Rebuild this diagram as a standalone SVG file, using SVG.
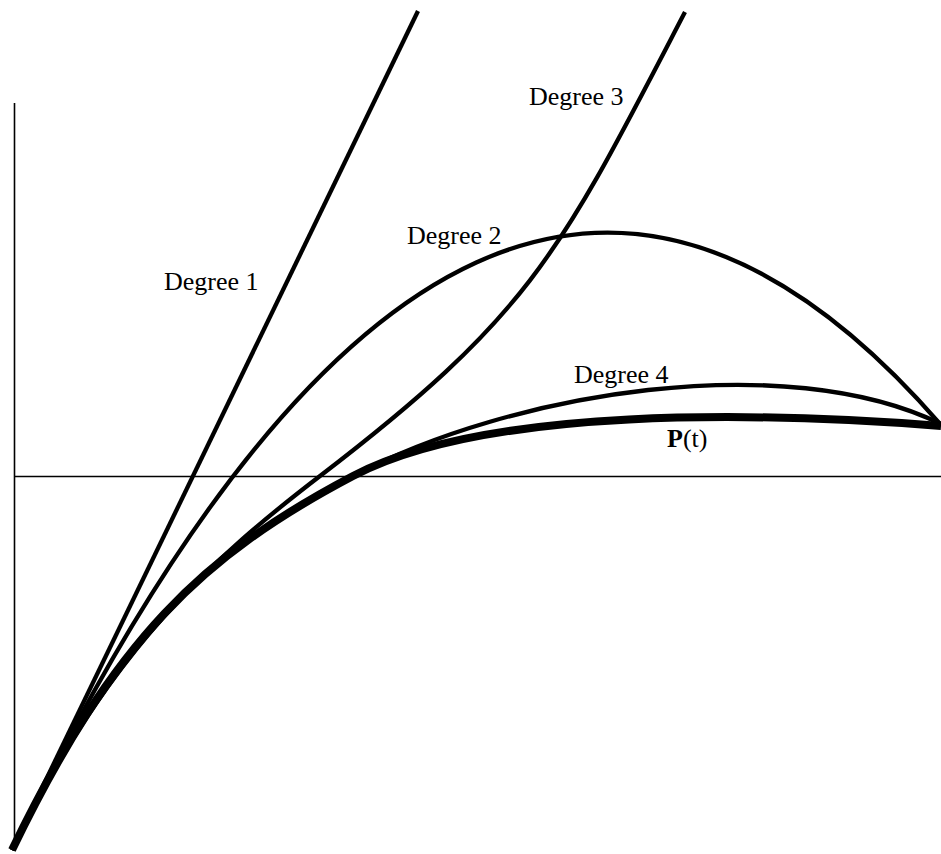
<svg xmlns="http://www.w3.org/2000/svg" width="941" height="854" viewBox="0 0 941 854">
<style>
.axis{stroke:#000;stroke-width:1.6;fill:none}
.c{stroke:#000;stroke-width:4.3;fill:none}
.p{stroke:#000;stroke-width:8;fill:none}
.lbl{font-family:"Liberation Serif","Times New Roman",serif;font-size:26px;fill:#000}
</style>
<rect width="941" height="854" fill="#fff"/>
<g id="axes">
<line class="axis" x1="14.5" y1="103" x2="14.5" y2="846"/>
<line class="axis" x1="14" y1="476.5" x2="941" y2="476.5"/>
</g>
<g id="curves">
<path id="deg1" class="c" d="M12,850 L418,11"/>
<path id="deg2" class="c" d="M12,850 Q475,-112 941,425"/>
<path id="deg3" class="c" d="M12,850 C109,648 217,555 320,476 C534,312 560,252 685,12"/>
<path id="deg4" class="c" d="M12,850 C114,639 203,555 353,476 C512,392 785,348 941,424"/>
<path id="pt" class="p" d="M12,850 C114,639 203,555 353,476 C486,406 760,412 941,426"/>
</g>
<g id="labels">
<text class="lbl" x="164" y="290">Degree 1</text>
<text class="lbl" x="407" y="244">Degree 2</text>
<text class="lbl" x="529" y="105">Degree 3</text>
<text class="lbl" x="574" y="383">Degree 4</text>
<text class="lbl" x="667" y="447"><tspan font-weight="bold">P</tspan>(t)</text>
</g>
</svg>
